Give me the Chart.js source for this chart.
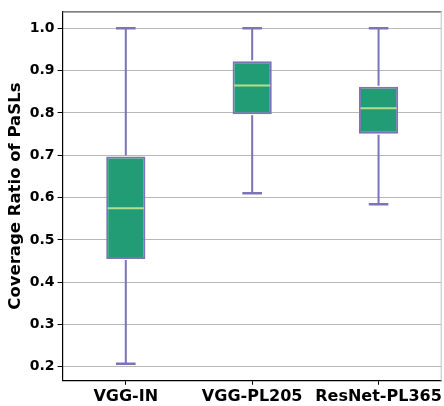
<!DOCTYPE html>
<html>
<head>
<meta charset="utf-8">
<script src="https://cdn.jsdelivr.net/npm/chart.js@4.4.0/dist/chart.umd.min.js"></script>
<style>
  html, body { margin: 0; padding: 0; background: #fff; overflow: hidden; }
</style>
</head>
<body>
<canvas id="grafico" width="444" height="406"></canvas>
<script>
const categorias = ["VGG-IN", "VGG-PL205", "ResNet-PL365"];
const bigoteMin = [0.207, 0.61, 0.584];
const cuartil1 = [0.455, 0.797, 0.751];
const mediana = [0.575, 0.865, 0.811];
const cuartil3 = [0.697, 0.922, 0.862];
const bigoteMax = [1.0, 1.0, 1.0];
const ticksY = [0.2, 0.3, 0.4, 0.5, 0.6, 0.7, 0.8, 0.9, 1.0];

const morado = "#7b74b8";
const verde = "#229c74";
const verdeClaro = "#b3df8c";

const bigotes = {
  id: "bigotes",
  afterDatasetsDraw(chart) {
    const ctx = chart.ctx;
    const x = chart.scales.x;
    const y = chart.scales.y;
    const meta = chart.getDatasetMeta(0);
    ctx.save();
    categorias.forEach((c, i) => {
      const bar = meta.data[i];
      const cx = x.getPixelForValue(i);
      const half = bar.width / 2;
      ctx.strokeStyle = morado;
      ctx.lineWidth = 2;
      ctx.beginPath();
      ctx.moveTo(cx, y.getPixelForValue(cuartil3[i]) - 1);
      ctx.lineTo(cx, y.getPixelForValue(bigoteMax[i]));
      ctx.moveTo(cx, y.getPixelForValue(cuartil1[i]) + 1);
      ctx.lineTo(cx, y.getPixelForValue(bigoteMin[i]));
      ctx.stroke();
      ctx.lineWidth = 2.5;
      ctx.beginPath();
      ctx.moveTo(cx - half / 2, y.getPixelForValue(bigoteMax[i]));
      ctx.lineTo(cx + half / 2, y.getPixelForValue(bigoteMax[i]));
      ctx.moveTo(cx - half / 2, y.getPixelForValue(bigoteMin[i]));
      ctx.lineTo(cx + half / 2, y.getPixelForValue(bigoteMin[i]));
      ctx.stroke();
      ctx.strokeStyle = verdeClaro;
      ctx.lineWidth = 2;
      ctx.beginPath();
      ctx.moveTo(cx - half + 1.5, y.getPixelForValue(mediana[i]));
      ctx.lineTo(cx + half - 1.5, y.getPixelForValue(mediana[i]));
      ctx.stroke();
    });
    // marco superior y derecho
    const a = chart.chartArea;
    ctx.lineWidth = 1.2;
    ctx.strokeStyle = "#555";
    ctx.beginPath();
    ctx.moveTo(a.left, a.top + 0.5);
    ctx.lineTo(a.right, a.top + 0.5);
    ctx.stroke();
    ctx.strokeStyle = "#ccc";
    ctx.beginPath();
    ctx.moveTo(a.right - 0.5, a.top);
    ctx.lineTo(a.right - 0.5, a.bottom);
    ctx.stroke();
    ctx.restore();
  }
};

new Chart(document.getElementById("grafico"), {
  type: "bar",
  data: {
    labels: categorias,
    datasets: [{
      data: categorias.map((c, i) => [cuartil1[i], cuartil3[i]]),
      backgroundColor: verde,
      borderColor: morado,
      borderWidth: 2,
      borderSkipped: false,
      barPercentage: 0.31,
      categoryPercentage: 1
    }]
  },
  options: {
    responsive: false,
    animation: false,
    devicePixelRatio: 1,
    layout: { padding: { top: 8, right: 1, left: 6, bottom: -2 } },
    plugins: {
      legend: { display: false },
      tooltip: { enabled: false }
    },
    scales: {
      x: {
        grid: { offset: false, drawOnChartArea: false, drawTicks: true, tickLength: 4, tickColor: "#000" },
        border: { color: "#000", width: 1.2 },
        ticks: {
          color: "#000",
          padding: 2,
          maxRotation: 0,
          minRotation: 0,
          autoSkip: false,
          font: { family: "DejaVu Sans", weight: "bold", size: 16 }
        }
      },
      y: {
        min: 0.167,
        max: 1.04,
        afterBuildTicks: (scale) => { scale.ticks = ticksY.map(v => ({ value: v })); },
        grid: { color: "#b8b8b8", lineWidth: 1, tickLength: 5, tickColor: "#000" },
        border: { color: "#000", width: 1.2 },
        ticks: {
          color: "#000",
          padding: 3,
          font: { family: "DejaVu Sans", weight: "bold", size: 14 },
          callback: (v) => Number(v).toFixed(1)
        },
        title: {
          display: true,
          text: "Coverage Ratio of PaSLs",
          color: "#000",
          padding: { top: 0, bottom: 1 },
          font: { family: "DejaVu Sans", weight: "bold", size: 16.5 }
        }
      }
    }
  },
  plugins: [bigotes]
});
</script>
</body>
</html>
